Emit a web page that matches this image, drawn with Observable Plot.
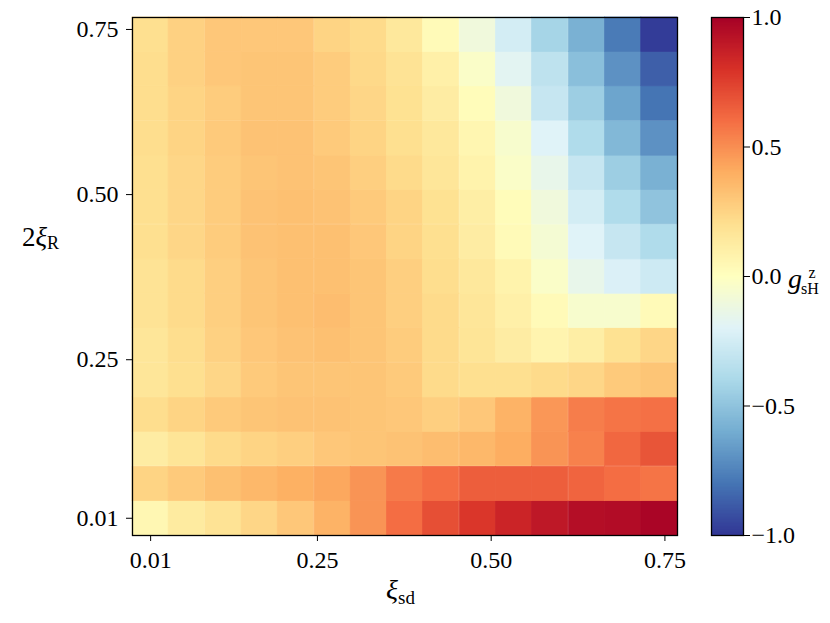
<!DOCTYPE html>
<html>
<head>
<meta charset="utf-8">
<script src="https://cdn.jsdelivr.net/npm/d3@7"></script>
<script src="https://cdn.jsdelivr.net/npm/@observablehq/plot@0.6"></script>
<style>
  html, body { margin: 0; padding: 0; background: #fff; }
  #wrap { position: relative; width: 830px; height: 623px; }
  #wrap svg { position: absolute; top: 0; overflow: visible; }
</style>
</head>
<body>
<div id="wrap"></div>
<script>
// grid coordinates (cell centres)
const xiSd = [0.010, 0.062, 0.115, 0.167, 0.219, 0.272, 0.324, 0.376, 0.428, 0.481, 0.533, 0.585, 0.638, 0.690, 0.742];
const xi2R = [0.010, 0.062, 0.115, 0.167, 0.219, 0.272, 0.324, 0.376, 0.428, 0.481, 0.533, 0.585, 0.638, 0.690, 0.742];
const halfCell = 0.0261;
const xTicks = [0.01, 0.25, 0.50, 0.75];
const yTicks = [0.01, 0.25, 0.50, 0.75];
const cbTicks = [-1.0, -0.5, 0.0, 0.5, 1.0];

// g_sH^z values, one array per row of 2ξ_R (bottom row first), across ξ_sd
const row00 = [0.05, 0.13, 0.18, 0.24, 0.30, 0.38, 0.48, 0.60, 0.70, 0.78, 0.85, 0.90, 0.94, 0.95, 0.98];
const row01 = [0.25, 0.29, 0.33, 0.36, 0.39, 0.42, 0.48, 0.56, 0.60, 0.65, 0.65, 0.65, 0.63, 0.60, 0.58];
const row02 = [0.12, 0.17, 0.22, 0.25, 0.27, 0.30, 0.31, 0.32, 0.34, 0.36, 0.40, 0.48, 0.54, 0.62, 0.68];
const row03 = [0.21, 0.25, 0.29, 0.31, 0.32, 0.32, 0.31, 0.30, 0.27, 0.30, 0.38, 0.47, 0.55, 0.58, 0.59];
const row04 = [0.16, 0.20, 0.24, 0.29, 0.31, 0.31, 0.31, 0.29, 0.22, 0.20, 0.20, 0.22, 0.24, 0.29, 0.31];
const row05 = [0.16, 0.21, 0.26, 0.30, 0.32, 0.33, 0.31, 0.28, 0.22, 0.17, 0.12, 0.07, 0.11, 0.19, 0.24];
const row06 = [0.18, 0.22, 0.27, 0.31, 0.33, 0.34, 0.31, 0.27, 0.22, 0.16, 0.10, 0.03, -0.05, -0.05, 0.03];
const row07 = [0.18, 0.22, 0.27, 0.31, 0.33, 0.33, 0.31, 0.27, 0.21, 0.15, 0.08, -0.03, -0.15, -0.22, -0.27];
const row08 = [0.20, 0.24, 0.28, 0.32, 0.33, 0.33, 0.30, 0.25, 0.20, 0.12, 0.03, -0.07, -0.20, -0.30, -0.38];
const row09 = [0.20, 0.24, 0.28, 0.32, 0.33, 0.32, 0.29, 0.25, 0.19, 0.11, 0.02, -0.10, -0.25, -0.38, -0.50];
const row10 = [0.20, 0.24, 0.28, 0.31, 0.32, 0.31, 0.27, 0.22, 0.16, 0.08, -0.03, -0.15, -0.30, -0.45, -0.58];
const row11 = [0.21, 0.25, 0.29, 0.32, 0.32, 0.29, 0.25, 0.20, 0.15, 0.06, -0.05, -0.20, -0.38, -0.55, -0.70];
const row12 = [0.21, 0.25, 0.28, 0.31, 0.31, 0.28, 0.24, 0.19, 0.12, 0.02, -0.10, -0.30, -0.45, -0.63, -0.80];
const row13 = [0.21, 0.26, 0.30, 0.31, 0.31, 0.28, 0.23, 0.18, 0.10, -0.03, -0.18, -0.33, -0.52, -0.70, -0.87];
const row14 = [0.20, 0.26, 0.30, 0.30, 0.30, 0.25, 0.22, 0.15, 0.03, -0.10, -0.25, -0.42, -0.58, -0.78, -0.98];
const rows = [row00, row01, row02, row03, row04, row05, row06, row07, row08, row09, row10, row11, row12, row13, row14];

// RdYlBu_r colormap stops (matplotlib style, linear segments)
const cmapColors = ["#313695","#4575b4","#74add1","#abd9e9","#e0f3f8","#ffffbf","#fee090","#fdae61","#f46d43","#d73027","#a50026"];
const cmapStops = cmapColors.map((_, i) => -1 + i * 0.2);
const colorScale = {type: "linear", domain: cmapStops, range: cmapColors, clamp: true};

const cells = [];
rows.forEach((r, j) => r.forEach((v, i) => cells.push({x: xiSd[i], y: xi2R[j], g: v})));

const font = "Liberation Serif, DejaVu Serif, serif";
const lo = xiSd[0] - halfCell, hi = xiSd[xiSd.length - 1] + halfCell;

const main = Plot.plot({
  width: 690, height: 623,
  marginLeft: 132, marginRight: 13, marginTop: 17, marginBottom: 88,
  style: {fontFamily: font, fontSize: "24px", color: "#000", background: "transparent"},
  x: {domain: [lo, hi]},
  y: {domain: [lo, hi]},
  color: colorScale,
  marks: [
    Plot.rect(cells, {x1: d => d.x - halfCell, x2: d => d.x + halfCell, y1: d => d.y - halfCell, y2: d => d.y + halfCell, fill: "g", stroke: "g", strokeWidth: 0.7}),
    Plot.frame({stroke: "#000", strokeWidth: 1.3}),
    Plot.axisX({ticks: xTicks, tickFormat: d3.format(".2f"), tickSize: 6, tickPadding: 9, label: null, fontSize: 24}),
    Plot.axisY({ticks: yTicks, tickFormat: d3.format(".2f"), tickSize: 6, tickPadding: 8, label: null, fontSize: 24})
  ]
});
main.style.left = "0px";
document.getElementById("wrap").appendChild(main);

const ramp = d3.range(-1, 1, 0.005);
const cbar = Plot.plot({
  width: 140, height: 623,
  marginLeft: 21, marginRight: 87, marginTop: 17, marginBottom: 88,
  style: {fontFamily: font, fontSize: "24px", color: "#000", background: "transparent"},
  x: {domain: [0, 1], axis: null},
  y: {domain: [-1, 1]},
  color: colorScale,
  marks: [
    Plot.rect(ramp, {x1: 0, x2: 1, y1: d => d, y2: d => d + 0.006, fill: d => d + 0.0025, shapeRendering: "crispEdges"}),
    Plot.frame({stroke: "#000", strokeWidth: 1.3}),
    Plot.axisY({anchor: "right", ticks: cbTicks, tickFormat: d3.format(".1f"), tickSize: 6, tickPadding: 2, label: null, fontSize: 24})
  ]
});
cbar.style.left = "690px";
document.getElementById("wrap").appendChild(cbar);

// axis labels with sub/superscripts
const ms = d3.select(main);
const xl = ms.append("text").attr("x", 386).attr("y", 599).attr("text-anchor", "start")
  .style("font-family", font).style("font-size", "28px");
xl.append("tspan").style("font-style", "italic").text("ξ");
xl.append("tspan").attr("dy", 5).style("font-size", "19px").text("sd");

const yl = ms.append("text").attr("x", 22).attr("y", 246).attr("text-anchor", "start")
  .style("font-family", font).style("font-size", "27px");
yl.append("tspan").text("2");
yl.append("tspan").style("font-style", "italic").text("ξ");
yl.append("tspan").attr("dy", 3).style("font-size", "18px").text("R");

const cs = d3.select(cbar);
cs.append("text").attr("x", 105).attr("y", 288).style("font-family", font).style("font-size", "28px")
  .style("font-style", "italic").text("g");
cs.append("text").attr("x", 122).attr("y", 278).style("font-family", font).style("font-size", "16px").text("z");
cs.append("text").attr("x", 120).attr("y", 294).style("font-family", font).style("font-size", "16px").text("sH");
</script>
</body>
</html>
